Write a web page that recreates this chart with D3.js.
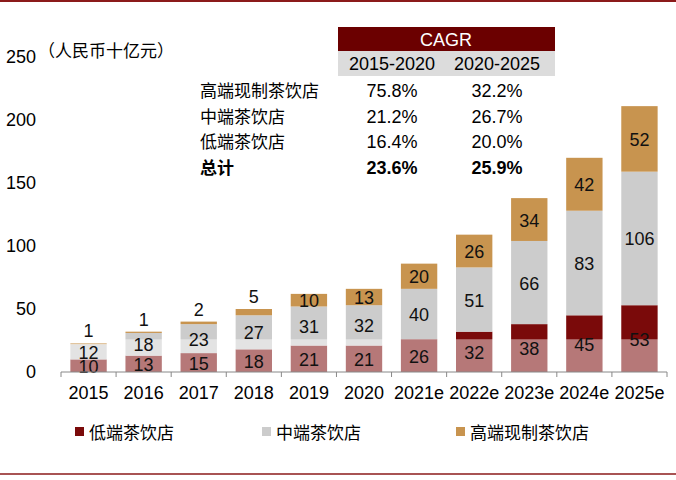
<!DOCTYPE html><html><head><meta charset="utf-8"><script src="https://cdn.jsdelivr.net/npm/d3@7"></script>
<style>body{margin:0;background:#fff}text{font-family:Arial,"Liberation Sans","Noto Sans CJK SC",sans-serif}</style></head><body><svg id="c" width="676" height="480"></svg><script>
const categories=["2015","2016","2017","2018","2019","2020","2021e","2022e","2023e","2024e","2025e"];
const low=[10,13,15,18,21,21,26,32,38,45,53];
const mid=[12,18,23,27,31,32,40,51,66,83,106];
const high=[1,1,2,5,10,13,20,26,34,42,52];
const seriesNames=["低端茶饮店","中端茶饮店","高端现制茶饮店"];
const colors=["#7a0a0a","#cccccc","#c8944f"];
const yTicks=[0,50,100,150,200,250];
const tableRows=[["高端现制茶饮店","75.8%","32.2%"],["中端茶饮店","21.2%","26.7%"],["低端茶饮店","16.4%","20.0%"],["总计","23.6%","25.9%"]];
const svg=d3.select("#c");
svg.append("line").attr("x1",0).attr("x2",676).attr("y1",1).attr("y2",1).attr("stroke","#8b1a1a").attr("stroke-width",2);
svg.append("line").attr("x1",0).attr("x2",676).attr("y1",474).attr("y2",474).attr("stroke","#8b1a1a").attr("stroke-width",1.5);
const x=d3.scaleBand().domain(categories).range([61,667]).paddingInner(0.34).paddingOuter(0.17);
const y=d3.scaleLinear().domain([0,250]).range([372,57]);
const data=categories.map((c,i)=>({c,low:low[i],mid:mid[i],high:high[i]}));
const stack=d3.stack().keys(["low","mid","high"])(data);
const g=svg.append("g");
stack.forEach((s,k)=>{
 g.selectAll(null).data(s).enter().append("rect").attr("x",d=>x(d.data.c)).attr("width",x.bandwidth()).attr("y",d=>y(d[1])).attr("height",d=>y(d[0])-y(d[1])).attr("fill",colors[k]);
});
svg.append("rect").attr("x",61).attr("width",606).attr("y",y(26)).attr("height",372-y(26)).attr("fill","#fff").attr("opacity",0.45);
const lg=svg.append("g");
stack.forEach((s,k)=>{
 lg.selectAll(null).data(s).enter().append("text").attr("x",d=>x(d.data.c)+x.bandwidth()/2)
 .attr("y",d=>{const h=y(d[0])-y(d[1]);return (k==2&&h<9)?y(d[1])-6:(y(d[0])+y(d[1]))/2+7;})
 .attr("text-anchor","middle").attr("font-size",18).attr("fill","#111").text(d=>d[1]-d[0]);
});
svg.append("line").attr("x1",61).attr("x2",667).attr("y1",372).attr("y2",372).attr("stroke","#888");
categories.forEach(c=>{svg.append("line").attr("x1",x(c)-x.step()*x.paddingInner()/2).attr("x2",x(c)-x.step()*x.paddingInner()/2).attr("y1",372).attr("y2",377).attr("stroke","#888");});
svg.append("line").attr("x1",667).attr("x2",667).attr("y1",372).attr("y2",377).attr("stroke","#888");
categories.forEach(c=>svg.append("text").attr("x",x(c)+x.bandwidth()/2).attr("y",399).attr("text-anchor","middle").attr("font-size",18).text(c));
yTicks.forEach(t=>svg.append("text").attr("x",36).attr("y",y(t)+6).attr("text-anchor","end").attr("font-size",18).text(t));
svg.append("text").attr("x",38).attr("y",57).attr("font-size",17).text("（人民币十亿元）");
svg.append("rect").attr("x",338).attr("y",27).attr("width",217).attr("height",24).attr("fill","#6b0000");
svg.append("rect").attr("x",338).attr("y",51).attr("width",217).attr("height",25).attr("fill","#dcdcdc");
svg.append("text").attr("x",446).attr("y",46).attr("text-anchor","middle").attr("fill","#fff").attr("font-size",18).text("CAGR");
svg.append("text").attr("x",392).attr("y",70).attr("text-anchor","middle").attr("font-size",18).text("2015-2020");
svg.append("text").attr("x",497).attr("y",70).attr("text-anchor","middle").attr("font-size",18).text("2020-2025");
tableRows.forEach((r,i)=>{const yy=97+i*25.7,b=i==3?"bold":"normal";
 svg.append("text").attr("x",200).attr("y",yy).attr("font-size",17).attr("font-weight",b).text(r[0]);
 svg.append("text").attr("x",392).attr("y",yy).attr("text-anchor","middle").attr("font-size",18).attr("font-weight",b).text(r[1]);
 svg.append("text").attr("x",497).attr("y",yy).attr("text-anchor","middle").attr("font-size",18).attr("font-weight",b).text(r[2]);});
const lx=[75,262,456];
seriesNames.forEach((n,i)=>{svg.append("rect").attr("x",lx[i]).attr("y",427).attr("width",9).attr("height",9).attr("fill",colors[i]);
 svg.append("text").attr("x",lx[i]+14).attr("y",439).attr("font-size",17).text(n);});
</script></body></html>
